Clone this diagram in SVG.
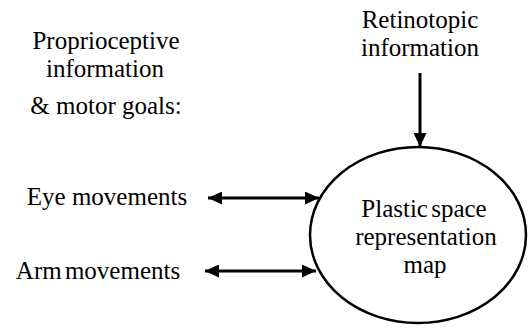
<svg xmlns="http://www.w3.org/2000/svg" width="528" height="329" viewBox="0 0 528 329">
<style>
text{font-family:"Liberation Serif","Times New Roman",serif;font-size:25px;fill:#000;text-anchor:middle}
.c{stroke:#000;stroke-width:3;fill:none}
.node{fill:none;stroke:#000;stroke-width:2.5}
</style>
<defs>
<marker id="ah" viewBox="0 0 14 13" refX="14" refY="6.5" markerWidth="14" markerHeight="13" markerUnits="userSpaceOnUse" orient="auto-start-reverse">
<path d="M0,0 L14,6.5 L0,13 Z" fill="#000"/>
</marker>
</defs>
<rect width="528" height="329" fill="#fff"/>
<g id="proprio">
<text x="106" y="49">Proprioceptive</text>
<text x="105" y="77">information</text>
<text x="106" y="114">&amp; motor goals:</text>
</g>
<g id="retino">
<text x="420" y="28">Retinotopic</text>
<text x="420" y="56">information</text>
</g>
<g id="eye"><text x="107" y="205">Eye movements</text></g>
<g id="arm"><text x="98" y="279" word-spacing="-3">Arm movements</text></g>
<g id="map">
<ellipse class="node" cx="418" cy="235" rx="108" ry="88"/>
<text x="424" y="217" word-spacing="-3">Plastic space</text>
<text x="426" y="245">representation</text>
<text x="425" y="273">map</text>
</g>
<g id="connectors">
<line class="c" x1="420" y1="73" x2="420" y2="147" marker-end="url(#ah)"/>
<line class="c" x1="208" y1="198" x2="319" y2="198" marker-start="url(#ah)" marker-end="url(#ah)"/>
<line class="c" x1="205" y1="271" x2="316" y2="271" marker-start="url(#ah)" marker-end="url(#ah)"/>
</g>
</svg>
